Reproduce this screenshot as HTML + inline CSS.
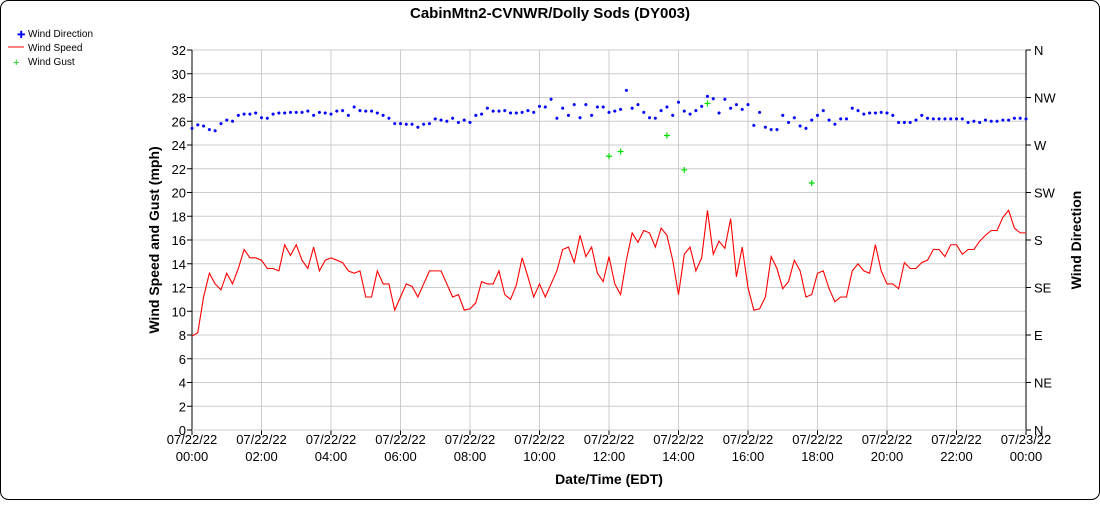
<!DOCTYPE html>
<html><head><meta charset="utf-8"><style>
body{margin:0;background:#fff;font-family:"Liberation Sans",sans-serif;}
#wrap{position:relative;width:1100px;height:500px;}
</style></head><body>
<div id="wrap">
<svg id="chart" width="1100" height="500" xmlns="http://www.w3.org/2000/svg" font-family="Liberation Sans, sans-serif">
<rect x="0.5" y="0.5" width="1099" height="499" rx="8" fill="#fff" stroke="#000"/>
<text x="550" y="18" text-anchor="middle" font-size="15" font-weight="bold">CabinMtn2-CVNWR/Dolly Sods (DY003)</text>
<g>
<g><text x="17" y="38" font-size="10" fill="#00f">✚</text><text x="28" y="37" font-size="10">Wind Direction</text></g>
<g><line x1="8" y1="47" x2="24" y2="47" stroke="red"/><text x="28" y="51" font-size="10">Wind Speed</text></g>
<g><text x="13" y="66" font-size="11" fill="#0c0">+</text><text x="28" y="65" font-size="10">Wind Gust</text></g>
</g>
<g id="grid"></g><g id="axes"></g><g id="marks"></g>
<text transform="translate(159,240) rotate(-90)" text-anchor="middle" font-size="14" font-weight="bold">Wind Speed and Gust (mph)</text>
<text transform="translate(1081,240) rotate(-90)" text-anchor="middle" font-size="14" font-weight="bold">Wind Direction</text>
<text x="609" y="484" text-anchor="middle" font-size="14" font-weight="bold">Date/Time (EDT)</text>
</svg></div>
<script>
const speed=[7.9,8.2,11.2,13.2,12.3,11.8,13.2,12.3,13.6,15.2,14.5,14.5,14.3,13.6,13.6,13.4,15.6,14.7,15.6,14.3,13.6,15.4,13.4,14.3,14.5,14.3,14.1,13.4,13.2,13.4,11.2,11.2,13.4,12.3,12.3,10.1,11.2,12.3,12.1,11.2,12.3,13.4,13.4,13.4,12.3,11.2,11.4,10.1,10.2,10.7,12.5,12.3,12.3,13.4,11.4,11.0,12.2,14.5,12.9,11.2,12.3,11.2,12.3,13.4,15.2,15.4,14.1,16.4,14.6,15.4,13.2,12.5,14.6,12.3,11.4,14.3,16.6,15.8,16.8,16.6,15.4,17.0,16.4,14.3,11.4,14.8,15.4,13.4,14.5,18.5,14.8,15.9,15.3,17.8,12.9,15.4,12.0,10.1,10.2,11.2,14.6,13.6,11.9,12.5,14.3,13.4,11.2,11.4,13.2,13.4,11.9,10.8,11.2,11.2,13.4,14.0,13.4,13.2,15.6,13.4,12.3,12.3,11.9,14.1,13.6,13.6,14.1,14.3,15.2,15.2,14.6,15.6,15.6,14.8,15.2,15.2,15.9,16.4,16.8,16.8,17.9,18.5,17.0,16.6,16.6];
// direction in left-axis-equivalent units (1 unit = 11.25 deg)
const dirUnits=[25.4,25.7,25.6,25.3,25.2,25.8,26.1,26.0,26.5,26.6,26.6,26.7,26.3,26.25,26.6,26.7,26.7,26.75,26.75,26.75,26.85,26.5,26.75,26.7,26.6,26.85,26.9,26.5,27.2,26.9,26.85,26.85,26.7,26.5,26.25,25.8,25.8,25.75,25.75,25.5,25.75,25.8,26.2,26.1,26.0,26.25,25.9,26.1,25.9,26.5,26.6,27.1,26.85,26.85,26.9,26.7,26.7,26.75,26.9,26.75,27.25,27.2,27.85,26.25,27.1,26.5,27.4,26.3,27.4,26.5,27.2,27.2,26.75,26.85,27.0,28.6,27.1,27.4,26.75,26.3,26.25,26.9,27.2,26.5,27.6,26.85,26.6,26.9,27.25,28.1,27.9,26.7,27.85,27.1,27.4,27.0,27.4,25.65,26.75,25.5,25.3,25.3,26.5,25.9,26.3,25.6,25.4,26.1,26.5,26.9,26.1,25.75,26.2,26.2,27.1,26.9,26.6,26.7,26.7,26.75,26.7,26.5,25.9,25.9,25.9,26.1,26.5,26.25,26.2,26.2,26.2,26.2,26.2,26.2,25.9,26.0,25.9,26.1,26.0,26.0,26.1,26.1,26.25,26.25,26.2];
const direction=dirUnits.map(u=>u*11.25);
const gustSteps=[72,74,82,85,89,107];
const gustValues=[23.05,23.45,24.8,21.9,27.5,20.8];
const yTicks=[0,2,4,6,8,10,12,14,16,18,20,22,24,26,28,30,32];
const dirLabels=["N","NE","E","SE","S","SW","W","NW","N"];
const xDates=["07/22/22","07/22/22","07/22/22","07/22/22","07/22/22","07/22/22","07/22/22","07/22/22","07/22/22","07/22/22","07/22/22","07/22/22","07/23/22"];
const xTimes=["00:00","02:00","04:00","06:00","08:00","10:00","12:00","14:00","16:00","18:00","20:00","22:00","00:00"];
const X0=192,X1=1026,Y0=430,Y1=50;
const xs=s=>X0+(X1-X0)*s/144;
const ys=v=>Y0-(Y0-Y1)*v/32;
const yd=d=>Y0-(Y0-Y1)*d/360;
const NS="http://www.w3.org/2000/svg";
function mk(tag,attrs,parent){const e=document.createElementNS(NS,tag);for(const k in attrs)e.setAttribute(k,attrs[k]);document.getElementById(parent).appendChild(e);return e;}
yTicks.forEach((t,i)=>{
 const g=mk('line',{x1:X0,x2:X1,y1:ys(t),y2:ys(t),stroke:'#ccc'},'grid');
 
 
 const tk=mk('line',{x1:X0-5,x2:X0,y1:ys(t),y2:ys(t),stroke:'#000'},'axes');
 
 
 const l=mk('text',{x:X0-6,y:ys(t)+5,'text-anchor':'end','font-size':13},'axes');
 l.textContent=t;
 
 
});
dirLabels.forEach((d,i)=>{
 const tk=mk('line',{x1:X1,x2:X1+5,y1:yd(i*45),y2:yd(i*45),stroke:'#000'},'axes');
 
 
 const l=mk('text',{x:X1+8,y:yd(i*45)+5,'font-size':13},'axes');
 l.textContent=d;
 
 
});
xTimes.forEach((t,i)=>{
 const x=xs(i*12);
 const g=mk('line',{x1:x,x2:x,y1:Y1,y2:Y0,stroke:'#ccc'},'grid');
 
 
 const tk=mk('line',{x1:x,x2:x,y1:Y0,y2:Y0+5,stroke:'#000'},'axes');
 
 
 const l1=mk('text',{x:x,y:444,'text-anchor':'middle','font-size':13},'axes');
 l1.textContent=xDates[i];
 
 
 const l2=mk('text',{x:x,y:461,'text-anchor':'middle','font-size':13},'axes');
 l2.textContent=t;
 
 
});
[[X0,X0],[X1,X1]].forEach(([a,b],i)=>{
 const l=mk('line',{x1:a,x2:b,y1:Y1,y2:Y0,stroke:'#000'},'axes');
 
 
});
const xa=mk('line',{x1:X0,x2:X1,y1:Y0,y2:Y0,stroke:'#ccc'},'axes');


const p=mk('polyline',{points:speed.map((v,i)=>xs(i)+','+ys(v)).join(' '),fill:'none',stroke:'red','stroke-width':1.1},'marks');


direction.forEach((d,i)=>{
 const x=xs(i),y=yd(d);
 const c=mk('path',{d:`M${x-1.5},${y}h3M${x},${y-1.5}v3`,stroke:'#00f','stroke-width':1.8},'marks');
 
 
});
gustSteps.forEach((s,i)=>{
 const x=xs(s),y=ys(gustValues[i]);
 const c=mk('path',{d:`M${x-3},${y}h6M${x},${y-3}v6`,stroke:'#0d0','stroke-width':1.2},'marks');
 
 
});
</script>
</body></html>
